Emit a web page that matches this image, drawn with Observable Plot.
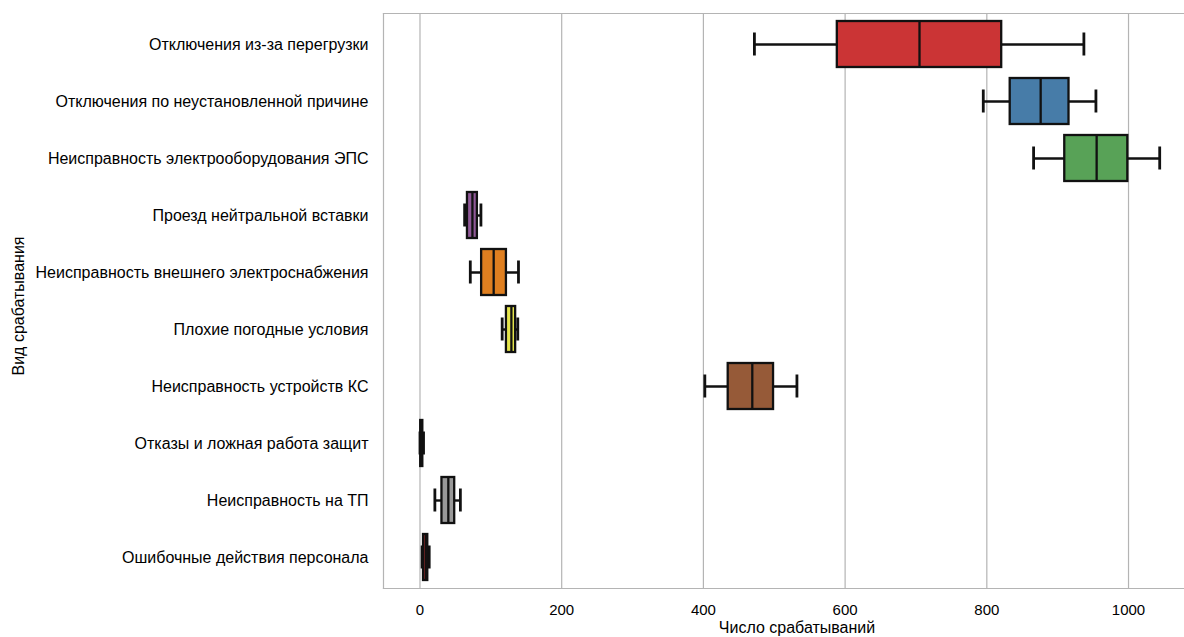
<!DOCTYPE html>
<html>
<head>
<meta charset="utf-8">
<script src="https://cdn.jsdelivr.net/npm/d3@7"></script>
<script src="https://cdn.jsdelivr.net/npm/@observablehq/plot@0.6"></script>
<style>
  body { margin: 0; background: #fff; }
  #chart svg { display: block; }
</style>
</head>
<body>
<div id="chart"></div>
<script>
const categories = [
  "Отключения из-за перегрузки",
  "Отключения по неустановленной причине",
  "Неисправность электрооборудования ЭПС",
  "Проезд нейтральной вставки",
  "Неисправность внешнего электроснабжения",
  "Плохие погодные условия",
  "Неисправность устройств КС",
  "Отказы и ложная работа защит",
  "Неисправность на ТП",
  "Ошибочные действия персонала"
];
const whiskerLow  = [472, 795, 866, 63,  71, 116, 402, 0, 21, 3];
const q1          = [589, 833, 910, 67,  87, 122, 435, 1, 31, 5];
const median      = [705, 876, 955, 74, 104, 129, 469, 2, 40, 8];
const q3          = [821, 916, 999, 81, 122, 135, 499, 4, 49, 11];
const whiskerHigh = [937, 954, 1044, 86, 139, 138, 532, 5, 57, 13];
const colors = ["#cb3435", "#477ca8", "#58a257", "#905998", "#df7f20",
                "#e6e64d", "#965a38", "#e890be", "#999999", "#cb3435"];
const xTicks = [0, 200, 400, 600, 800, 1000];
const xLabel = "Число срабатываний";
const yLabel = "Вид срабатывания";

const rows = categories.map((c, i) => ({
  cat: c, lo: whiskerLow[i], q1: q1[i], med: median[i], q3: q3[i], hi: whiskerHigh[i], color: colors[i]
}));

const gridColor = "#b4b4b4";

const chart = Plot.plot({
  width: 1184,
  height: 637,
  marginLeft: 383,
  marginRight: 0,
  marginTop: 13,
  marginBottom: 49,
  style: { fontFamily: "'Liberation Sans', Arial, sans-serif", fontSize: "16px", color: "#000", background: "#fff" },
  x: { domain: [-51.5, 1079] },
  y: { domain: categories, paddingInner: 0.2, paddingOuter: 0.1 },
  marks: [
    Plot.gridX(xTicks, { stroke: gridColor, strokeOpacity: 1, strokeWidth: 1.2 }),
    Plot.frame({ anchor: "left", stroke: gridColor, strokeWidth: 1.2 }),
    Plot.frame({ anchor: "top", stroke: gridColor, strokeWidth: 1.2 }),
    Plot.frame({ anchor: "bottom", stroke: gridColor, strokeWidth: 1.2 }),
    Plot.axisX({ ticks: xTicks, tickFormat: d => String(d), tickSize: 0, tickPadding: 16, fontSize: 15, label: null }),
    Plot.axisY({ tickSize: 0, tickPadding: 15, fontSize: 16, label: null }),
    Plot.text([xLabel], { text: d => d, frameAnchor: "bottom", textAnchor: "middle", dx: 13, dy: 39, fontSize: 16, lineAnchor: "middle" }),
    Plot.text([yLabel], { text: d => d, frameAnchor: "left", textAnchor: "middle", dx: -365, dy: 5, rotate: -90, fontSize: 16, lineAnchor: "middle" }),
    Plot.ruleY(rows, { y: "cat", x1: "lo", x2: "hi", stroke: "#111", strokeWidth: 2.4 }),
    Plot.tickX(rows, { y: "cat", x: "lo", stroke: "#111", strokeWidth: 2.8, insetTop: 11.5, insetBottom: 11.5 }),
    Plot.tickX(rows, { y: "cat", x: "hi", stroke: "#111", strokeWidth: 2.8, insetTop: 11.5, insetBottom: 11.5 }),
    Plot.barX(rows, { y: "cat", x1: "q1", x2: "q3", fill: "color", stroke: "#111", strokeWidth: 2.3 }),
    Plot.tickX(rows, { y: "cat", x: "med", stroke: "#111", strokeWidth: 2.3 })
  ]
});
document.getElementById("chart").appendChild(chart);
</script>
</body>
</html>
